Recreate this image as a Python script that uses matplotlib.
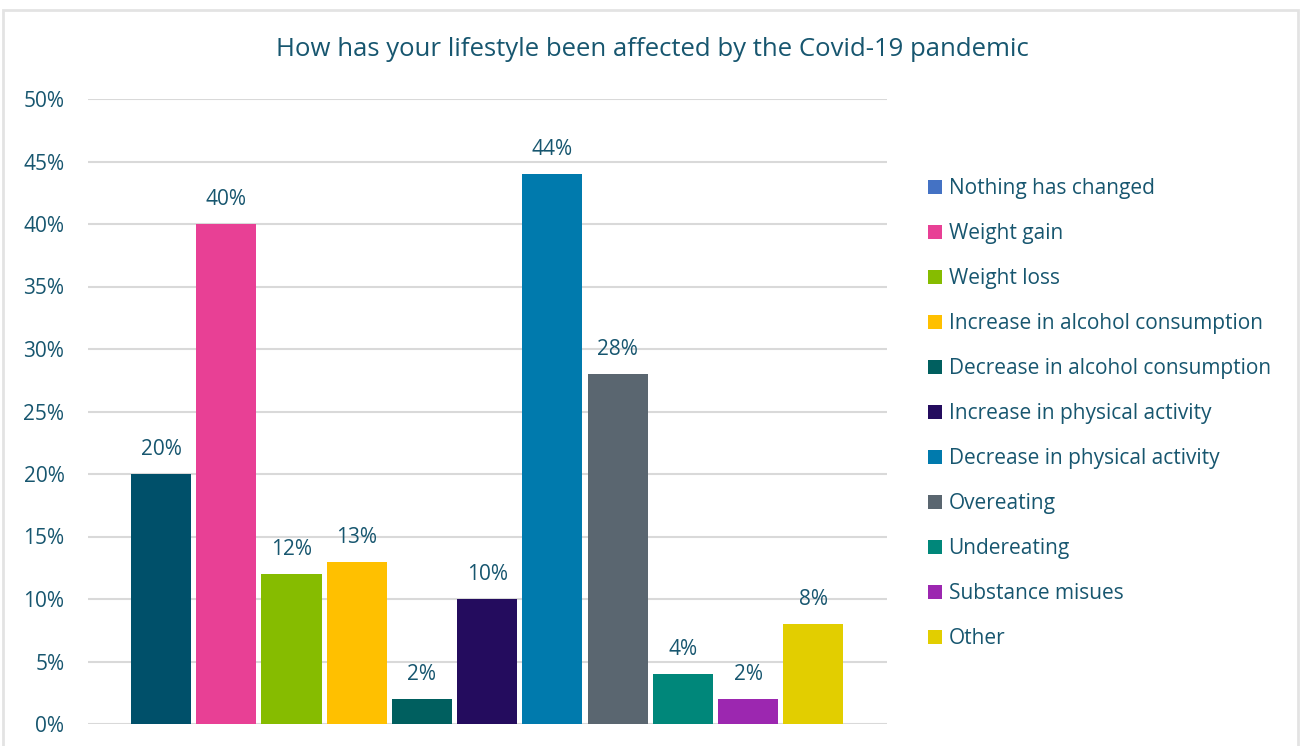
import matplotlib.pyplot as plt
from matplotlib.patches import Patch, Rectangle

# Data #
categories = ["Nothing has changed", "Weight gain", "Weight loss",
              "Increase in alcohol consumption", "Decrease in alcohol consumption",
              "Increase in physical activity", "Decrease in physical activity",
              "Overeating", "Undereating", "Substance misues", "Other"]
values = [20, 40, 12, 13, 2, 10, 44, 28, 4, 2, 8]
bar_colors = ['#00506A', '#E84095', '#86BC00', '#FFC000', '#005F5F', '#240C5E',
              '#007AAD', '#5A6670', '#00877A', '#9C27B0', '#E2CE00']
legend_colors = ['#4472C4'] + bar_colors[1:]
y_ticks = [0, 5, 10, 15, 20, 25, 30, 35, 40, 45, 50]

text_color = '#17566F'
plt.rcParams['font.family'] = ['Open Sans', 'DejaVu Sans']

fig = plt.figure(figsize=(13.03, 7.46), dpi=100)
ax = fig.add_axes([88 / 1303, 1 - 724 / 746, 799 / 1303, 625 / 746])

# Chart frame.
fig.patches.append(Rectangle((3 / 1303, -0.05), 1295 / 1303, 1.05 - 10 / 746,
                             transform=fig.transFigure, fill=False,
                             edgecolor='#E3E3E3', linewidth=2, zorder=0))

x = list(range(len(values)))
ax.bar(x, values, width=0.92, color=bar_colors, zorder=3)

for xi, v in zip(x, values):
    ax.annotate(f"{v}%", (xi, v), xytext=(0, 10), textcoords='offset points',
                ha='center', va='bottom', fontsize=15, color=text_color)

ax.set_xlim(-1.12, 11.13)
ax.set_ylim(0, 50)
ax.set_yticks(y_ticks)
ax.set_yticklabels([f"{t}%" for t in y_ticks], fontsize=15, color=text_color)
ax.set_xticks([])
ax.tick_params(axis='y', length=0, pad=17)
ax.grid(axis='y', color='#D9D9D9', linewidth=1.5, zorder=0)
for s in ax.spines.values():
    s.set_visible(False)

fig.text(652 / 1303, 1 - 49 / 746, "How has your lifestyle been affected by the Covid-19 pandemic",
         ha='center', va='center', fontsize=18.5, color=text_color)

handles = [Patch(facecolor=c, edgecolor='none') for c in legend_colors]
fig.legend(handles, categories, loc='upper left', bbox_to_anchor=(920 / 1303, 1 - 170 / 746),
           frameon=False, fontsize=15, labelcolor=text_color, handlelength=0.67,
           handleheight=0.67, handletextpad=0.3, labelspacing=1.15, borderaxespad=0)

fig.savefig('out.png', dpi=100)
